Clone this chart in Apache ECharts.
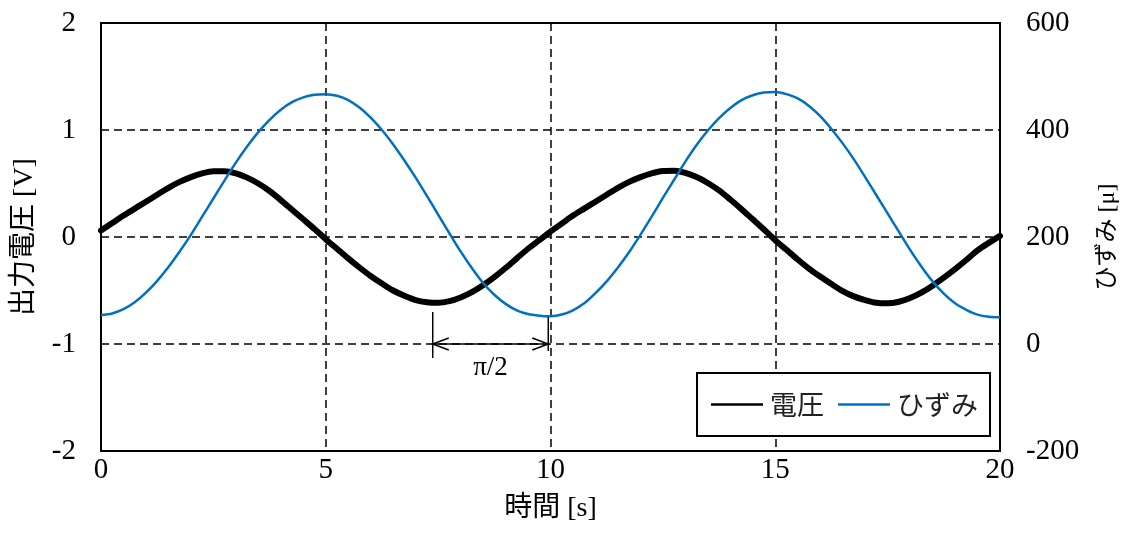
<!DOCTYPE html>
<html>
<head>
<meta charset="utf-8">
<script src="https://cdn.jsdelivr.net/npm/echarts@6/dist/echarts.min.js"></script>
<style>
html,body{margin:0;padding:0;background:#fff;}
#chart{width:1128px;height:541px;}
</style>
</head>
<body>
<div id="chart"></div>
<script>
// ---- data ----
const timeS = [0,0.25,0.5,0.75,1,1.25,1.5,1.75,2,2.25,2.5,2.75,3,3.25,3.5,3.75,4,4.25,4.5,4.75,
               5,5.25,5.5,5.75,6,6.25,6.5,6.75,7,7.25,7.5,7.75,8,8.25,8.5,8.75,9,9.25,9.5,9.75,
               10,10.25,10.5,10.75,11,11.25,11.5,11.75,12,12.25,12.5,12.75,13,13.25,13.5,13.75,14,14.25,14.5,14.75,
               15,15.25,15.5,15.75,16,16.25,16.5,16.75,17,17.25,17.5,17.75,18,18.25,18.5,18.75,19,19.25,19.5,19.75,
               20];
const voltageV = [0.06,0.13,0.20,0.265,0.33,0.395,0.46,0.515,0.56,0.595,0.615,0.615,0.595,0.555,0.50,0.43,0.345,0.255,0.165,0.075,
                  -0.02,-0.11,-0.20,-0.285,-0.365,-0.435,-0.50,-0.55,-0.59,-0.61,-0.615,-0.60,-0.565,-0.515,-0.45,-0.375,-0.29,-0.20,-0.11,-0.03,
                  0.05,0.125,0.20,0.265,0.33,0.395,0.46,0.515,0.56,0.595,0.617,0.62,0.60,0.56,0.505,0.435,0.35,0.26,0.165,0.07,
                  -0.03,-0.12,-0.21,-0.295,-0.37,-0.44,-0.505,-0.555,-0.59,-0.615,-0.62,-0.605,-0.57,-0.52,-0.455,-0.38,-0.30,-0.215,-0.125,-0.055,
                  0.01];
const strainMicro = [54,57,65,78,96,118,144,173,204,238,272,306,339,369,396,419,438,452,461,466,
                     467,464,456,442,423,400,373,343,311,277,242,207,173,142,114,92,75,63,56,53,
                     52,55,63,76,95,117,143,172,204,238,273,307,341,372,399,422,441,456,465,470,
                     471,467,459,445,426,402,375,345,312,278,244,210,176,145,117,94,76,64,55,51,
                     50];
const seriesNames = ['電圧', 'ひずみ'];
const xTicks = {min: 0, max: 20, interval: 5};
const leftTicks = {min: -2, max: 2, interval: 1};
const rightTicks = {min: -200, max: 600, interval: 200};
const phaseMarkStart = 7.38;
const phaseMarkEnd = 9.95;
const phaseMarkLevel = -1;
const phaseMarkText = 'π/2';

// ---- chart ----
const SERIF = "'Liberation Serif', 'Noto Sans CJK JP', serif";
const chart = echarts.init(document.getElementById('chart'), null, {renderer: 'canvas'});
const dash = [8, 5];

const option = {
  backgroundColor: '#fff',
  animation: false,
  textStyle: {fontFamily: SERIF, color: '#000'},
  grid: {left: 101, right: 127, top: 23, bottom: 90, show: true, borderColor: '#000', borderWidth: 2, backgroundColor: 'transparent'},
  legend: {
    data: [
      {name: seriesNames[0], icon: 'rect', itemStyle: {color: '#000'}},
      {name: seriesNames[1], icon: 'rect', itemStyle: {color: '#0070C0'}}
    ],
    left: 697, top: 373,
    orient: 'horizontal',
    itemWidth: 52, itemHeight: 2.5, itemGap: 14,
    padding: [18, 12, 18, 14],
    borderColor: '#000', borderWidth: 2, backgroundColor: '#fff',
    textStyle: {fontFamily: "'Noto Sans CJK JP', sans-serif", fontSize: 27, color: '#222', padding: [0,0,0,2]}
  },
  xAxis: {
    type: 'value', min: xTicks.min, max: xTicks.max, interval: xTicks.interval,
    name: '時間 [s]', nameLocation: 'middle', nameGap: 44,
    nameTextStyle: {fontFamily: SERIF, fontSize: 28, color: '#000'},
    axisLine: {show: false}, axisTick: {show: false},
    axisLabel: {fontFamily: SERIF, fontSize: 29, color: '#000', margin: 5},
    splitLine: {show: true, lineStyle: {color: '#000', type: dash, width: 1.5}}
  },
  yAxis: [
    {
      type: 'value', min: leftTicks.min, max: leftTicks.max, interval: leftTicks.interval,
      name: '出力電圧 [V]', nameLocation: 'middle', nameGap: 62,
      nameTextStyle: {fontFamily: SERIF, fontSize: 28, color: '#000'},
      axisLine: {show: false}, axisTick: {show: false},
      axisLabel: {fontFamily: SERIF, fontSize: 29, color: '#000', margin: 25},
      splitLine: {show: true, lineStyle: {color: '#000', type: dash, width: 1.5}}
    },
    {
      type: 'value', min: rightTicks.min, max: rightTicks.max, interval: rightTicks.interval,
      position: 'right',
      name: 'ひずみ [μ]', nameLocation: 'middle', nameGap: 96, nameRotate: 90,
      nameTextStyle: {fontFamily: SERIF, fontSize: 24, color: '#000'},
      axisLine: {show: false}, axisTick: {show: false},
      axisLabel: {fontFamily: SERIF, fontSize: 29, color: '#000', margin: 26},
      splitLine: {show: false}
    }
  ],
  series: [
    {
      name: seriesNames[0], type: 'line', yAxisIndex: 0,
      data: timeS.map((t, i) => [t, voltageV[i]]),
      smooth: 0.3, symbol: 'none', showSymbol: false,
      lineStyle: {color: '#000', width: 6, cap: 'round', join: 'round'},
      itemStyle: {color: '#000'}, z: 3
    },
    {
      name: seriesNames[1], type: 'line', yAxisIndex: 1,
      data: timeS.map((t, i) => [t, strainMicro[i]]),
      smooth: 0.3, symbol: 'none', showSymbol: false,
      lineStyle: {color: '#0070C0', width: 2.5},
      itemStyle: {color: '#0070C0'}, z: 4
    },
    {
      name: 'phase', type: 'custom', yAxisIndex: 0, silent: true, z: 5,
      data: [[phaseMarkStart, phaseMarkEnd, phaseMarkLevel]],
      encode: {x: [0, 1], y: 2},
      renderItem: function (params, api) {
        const p1 = api.coord([api.value(0), api.value(2)]);
        const p2 = api.coord([api.value(1), api.value(2)]);
        const st = {stroke: '#000', lineWidth: 1.5, fill: null};
        return {
          type: 'group',
          children: [
            {type: 'line', shape: {x1: p1[0], y1: p1[1] - 32, x2: p1[0], y2: p1[1] + 14}, style: st},
            {type: 'line', shape: {x1: p2[0], y1: p2[1] - 27, x2: p2[0], y2: p2[1] + 7}, style: st},
            {type: 'line', shape: {x1: p1[0], y1: p1[1], x2: p2[0], y2: p2[1]}, style: st},
            {type: 'polyline', shape: {points: [[p1[0] + 16, p1[1] - 6], [p1[0], p1[1]], [p1[0] + 16, p1[1] + 6]]}, style: st},
            {type: 'polyline', shape: {points: [[p2[0] - 16, p2[1] - 6], [p2[0], p2[1]], [p2[0] - 16, p2[1] + 6]]}, style: st},
            {type: 'text', x: (p1[0] + p2[0]) / 2, y: p1[1] + 24,
             style: {text: phaseMarkText, fontFamily: SERIF, fontSize: 27, fill: '#000', align: 'center', verticalAlign: 'middle'}}
          ]
        };
      }
    }
  ]
};
chart.setOption(option);
</script>
</body>
</html>
